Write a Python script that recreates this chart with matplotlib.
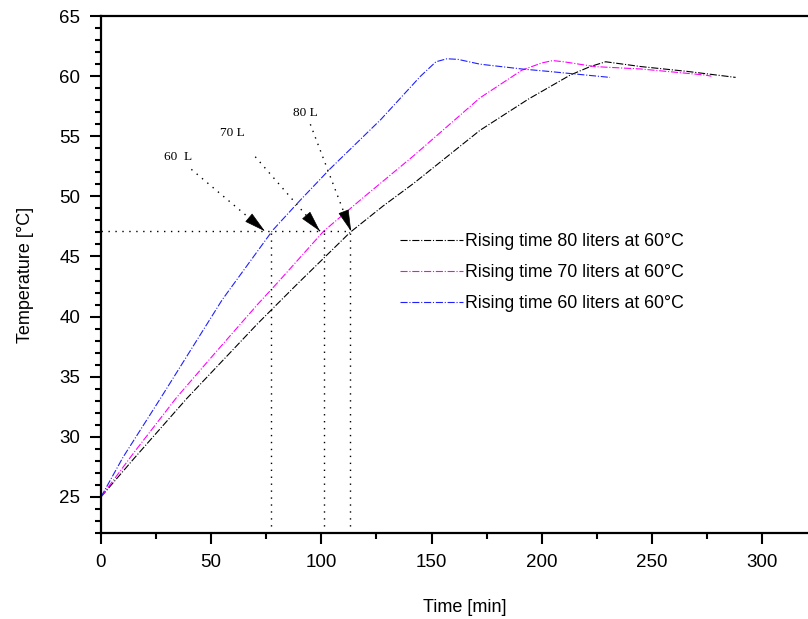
import numpy as np
import matplotlib
matplotlib.use("Agg")
import matplotlib.pyplot as plt
from matplotlib.ticker import MultipleLocator

plt.rcParams['font.family'] = ['Liberation Sans', 'DejaVu Sans']

# === Data ===
t80 = [0, 15, 39, 55, 71, 89, 113, 128, 142, 157, 172, 194, 213, 222, 229, 245, 266, 288]
T80 = [25, 28.2, 33.2, 36.3, 39.4, 42.7, 47.0, 49.2, 51.1, 53.3, 55.5, 58.1, 60.1, 60.8, 61.2, 60.8, 60.4, 59.9]

t70 = [0, 15, 34, 50, 71, 81, 101, 119, 142, 172, 191, 200, 205, 210, 224, 245, 274, 277]
T70 = [25, 28.7, 33.2, 36.6, 41.0, 43.0, 47.1, 49.9, 53.4, 58.2, 60.5, 61.1, 61.3, 61.2, 60.8, 60.6, 60.1, 60.0]

t60 = [0, 10, 27, 55, 78, 90, 104, 127, 145, 152, 157, 162, 172, 191, 203, 231]
T60 = [25, 28.3, 33.2, 41.4, 47.2, 49.6, 52.3, 56.4, 60.0, 61.2, 61.45, 61.4, 61.0, 60.6, 60.4, 59.9]

labels = ["Rising time 80 liters at 60\u00b0C",
          "Rising time 70 liters at 60\u00b0C",
          "Rising time 60 liters at 60\u00b0C"]

# marked crossing points at 47.1 degC
T_mark = 47.1
t_marks = [77, 101, 113]
ann_text = ["60  L", "70 L", "80 L"]
ann_text_pos = [(35, 53.3), (59.5, 55.3), (92.6, 56.9)]
ann_start = [(41, 52.25), (70, 53.3), (95, 56.0)]
ann_end = [(74.4, 47.1), (99.4, 47.1), (113.5, 47.1)]

# === Figure ===
fig = plt.figure(figsize=(8.08, 6.19), dpi=100)
ax = fig.add_axes([0.125, 0.139, 0.9, 0.835])

ax.plot(t80, T80, color="black", linestyle="-.", linewidth=0.8, label=labels[0])
ax.plot(t70, T70, color="#ff00ff", linestyle="-.", linewidth=0.8, label=labels[1])
ax.plot(t60, T60, color="#2020ff", linestyle="-.", linewidth=0.8, label=labels[2])

# dotted guide lines
ax.plot([0, t_marks[-1]], [T_mark, T_mark], color="black", linestyle=(0, (1, 4)), linewidth=1.0)
for tm in t_marks:
    ax.plot([tm, tm], [22, T_mark], color="black", linestyle=(0, (1, 4)), linewidth=1.0)

# annotations with dotted arrows
for txt, tp, s, e in zip(ann_text, ann_text_pos, ann_start, ann_end):
    ax.text(tp[0], tp[1], txt, fontsize=9.5, family="Liberation Serif", ha="center", va="center")
    ax.plot([s[0], e[0]], [s[1], e[1]], color="black", linestyle=(0, (1, 4)), linewidth=1.0)
    ax.annotate("", xy=e, xytext=(e[0] - (e[0] - s[0]) * 0.15, e[1] - (e[1] - s[1]) * 0.15),
                arrowprops=dict(arrowstyle="-|>,head_length=1.4,head_width=0.35",
                                color="black", lw=0.5, shrinkA=0, shrinkB=0))

ax.set_xlim(0, 330)
ax.set_ylim(22, 65)
ax.xaxis.set_major_locator(MultipleLocator(50))
ax.xaxis.set_minor_locator(MultipleLocator(25))
ax.yaxis.set_major_locator(MultipleLocator(5))
ax.yaxis.set_minor_locator(MultipleLocator(1))
ax.tick_params(which="major", direction="out", length=8, width=1.5, labelsize=13.5, pad=7)
ax.tick_params(which="minor", direction="out", length=4, width=1.5)
ax.tick_params(top=False, right=False)
for sp in ax.spines.values():
    sp.set_linewidth(1.6)

ax.set_xlabel("Time [min]", fontsize=13, labelpad=20)
ax.set_ylabel("Temperature [\u00b0C]", fontsize=13, labelpad=18)

ax.legend(loc="upper left", bbox_to_anchor=(400 / 808, 1 - 233 / 619),
          bbox_transform=fig.transFigure, frameon=False, fontsize=12.8,
          handlelength=3.55, handletextpad=0.1, borderpad=0, borderaxespad=0,
          labelspacing=0.8)

plt.savefig("out.png", dpi=100)
